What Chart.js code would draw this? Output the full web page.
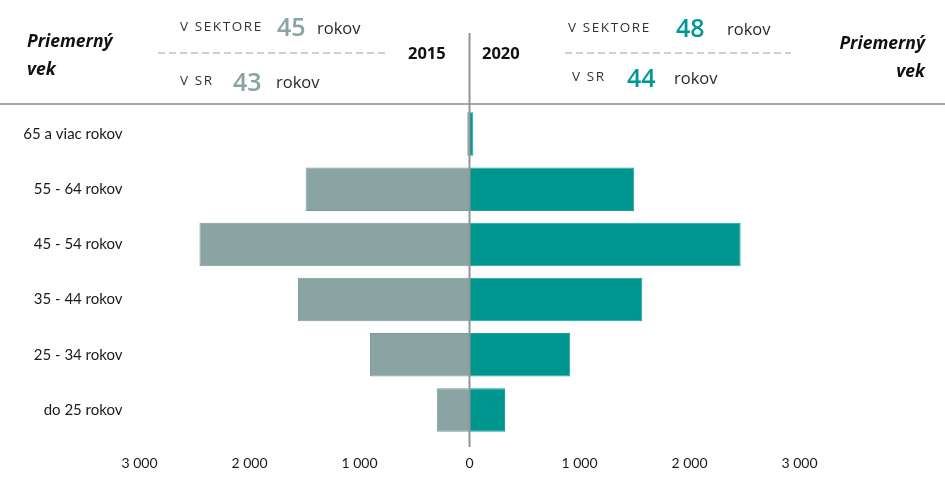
<!DOCTYPE html>
<html>
<head>
<meta charset="utf-8">
<script src="https://cdn.jsdelivr.net/npm/chart.js@4"></script>
<style>
  html, body { margin: 0; padding: 0; background: #fff; }
  #wrap { position: relative; width: 945px; height: 490px; overflow: hidden; font-family: "Open Sans", sans-serif; }
  #c { position: absolute; left: 0; top: 0; }
  .t { position: absolute; white-space: nowrap; line-height: 1; color: #2a2a2a; }
  .cap { font-size: 13.5px; letter-spacing: 1.6px; color: #333; }
  .num { font-size: 25px; font-weight: 600; }
  .rk { font-size: 16.5px; color: #2a2a2a; }
  .gray { color: #8aa3a4; }
  .teal { color: #009a94; }
  .yr { font-size: 16.5px; font-weight: 700; color: #111; }
  .pv { font-size: 17.5px; font-weight: 700; font-style: italic; color: #111; line-height: 28px; }
  .dash { position: absolute; height: 2px; background: repeating-linear-gradient(to right, #cfcfcf 0 7px, transparent 7px 11px); }
</style>
</head>
<body>
<div id="wrap">
  <canvas id="c" width="945" height="490"></canvas>

  <div class="t pv" style="left:27px; top:26px;">Priemerný<br>vek</div>
  <div class="t pv" style="right:20px; top:28px; text-align:right;">Priemerný<br>vek</div>

  <div class="t cap" style="left:180px; top:20px;">V SEKTORE</div>
  <div class="t num gray" style="left:277px; top:14px;">45</div>
  <div class="t rk" style="left:317px; top:20px;">rokov</div>
  <div class="dash" style="left:158px; width:228px; top:52px;"></div>
  <div class="t cap" style="left:180px; top:74px;">V SR</div>
  <div class="t num gray" style="left:233px; top:69px;">43</div>
  <div class="t rk" style="left:276px; top:74px;">rokov</div>

  <div class="t yr" style="left:408px; top:45px;">2015</div>
  <div class="t yr" style="left:482px; top:45px;">2020</div>

  <div class="t cap" style="left:568px; top:21px;">V SEKTORE</div>
  <div class="t num teal" style="left:676px; top:15px;">48</div>
  <div class="t rk" style="left:727px; top:21px;">rokov</div>
  <div class="dash" style="left:565px; width:226px; top:52px;"></div>
  <div class="t cap" style="left:572px; top:70px;">V SR</div>
  <div class="t num teal" style="left:627px; top:65px;">44</div>
  <div class="t rk" style="left:674px; top:70px;">rokov</div>
</div>
<script>
const categories = ["65 a viac rokov", "55 - 64 rokov", "45 - 54 rokov", "35 - 44 rokov", "25 - 34 rokov", "do 25 rokov"];
const values2015 = [20, 1490, 2455, 1560, 905, 298];
const values2020 = [35, 1498, 2465, 1571, 916, 323];
const xTicks = [-3000, -2000, -1000, 0, 1000, 2000, 3000];

const fmt = v => {
  const a = Math.abs(v);
  return a >= 1000 ? Math.floor(a / 1000) + " " + String(a % 1000).padStart(3, "0") : String(a);
};

const decor = {
  id: "decor",
  afterDatasetsDraw(chart) {
    const ctx = chart.ctx;
    const x0 = chart.scales.x.getPixelForValue(0);
    ctx.save();
    ctx.strokeStyle = "#a6a6a6";
    ctx.lineWidth = 2;
    ctx.beginPath();
    ctx.moveTo(0, 104);
    ctx.lineTo(945, 104);
    ctx.stroke();
    ctx.strokeStyle = "#959595";
    ctx.lineWidth = 2;
    ctx.beginPath();
    ctx.moveTo(x0, 33);
    ctx.lineTo(x0, 447);
    ctx.stroke();
    ctx.restore();
  }
};

new Chart(document.getElementById("c"), {
  type: "bar",
  data: {
    labels: categories,
    datasets: [
      {
        label: "2015",
        data: values2015.map(v => -v),
        backgroundColor: "#8aa3a3",
        borderColor: "#7e9999",
        borderWidth: 1,
        barPercentage: 0.79,
        categoryPercentage: 1
      },
      {
        label: "2020",
        data: values2020,
        backgroundColor: "#009690",
        borderColor: "#14a39d",
        borderWidth: 1,
        barPercentage: 0.79,
        categoryPercentage: 1
      }
    ]
  },
  options: {
    indexAxis: "y",
    responsive: false,
    animation: false,
    devicePixelRatio: 1,
    layout: { padding: { top: 106.5, right: 145.5, left: 0, bottom: 0 } },
    plugins: { legend: { display: false }, tooltip: { enabled: false } },
    scales: {
      x: {
        stacked: true,
        min: -3000,
        max: 3000,
        afterBuildTicks(scale) { scale.ticks = xTicks.map(v => ({ value: v })); },
        afterFit(scale) { scale.height = 52.5; },
        grid: { display: false, drawTicks: false },
        border: { display: false },
        ticks: {
          padding: 18,
          color: "#1a1a1a",
          font: { family: "Lato", size: 14 },
          callback: v => fmt(v)
        }
      },
      y: {
        stacked: true,
        afterFit(scale) { scale.width = 139.5; },
        grid: { display: false, drawTicks: false },
        border: { display: false },
        ticks: {
          padding: 17,
          color: "#1a1a1a",
          font: { family: "Lato", size: 15 }
        }
      }
    }
  },
  plugins: [decor]
});
</script>
</body>
</html>
